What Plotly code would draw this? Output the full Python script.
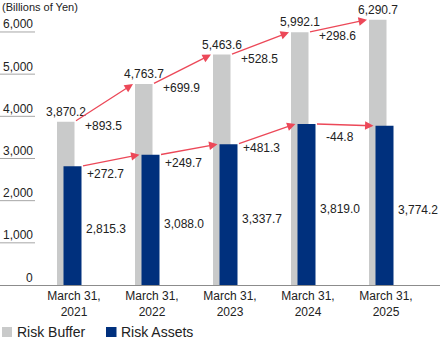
import plotly.graph_objects as go

# ---- data ----
categories = ["March 31,<br>2021", "March 31,<br>2022", "March 31,<br>2023",
              "March 31,<br>2024", "March 31,<br>2025"]
risk_buffer = [3870.2, 4763.7, 5463.6, 5992.1, 6290.7]
risk_assets = [2815.3, 3088.0, 3337.7, 3819.0, 3774.2]
y_ticks = [0, 1000, 2000, 3000, 4000, 5000, 6000]
unit_label = "(Billions of Yen)"
series_names = ["Risk Buffer", "Risk Assets"]

# ---- style ----
FONT = "Liberation Sans, Arial, Helvetica, sans-serif"
GRAY = "#c9caca"
NAVY = "#00307d"
RED = "#ec4858"
TXT = "#222222"
W, H = 440, 340
PX = 78.0            # px per category
X0 = 74.0            # px position of first category
PLOT_BOTTOM = 285.0  # px of y=0
PX_PER_K = 42.17     # px per 1000

def px(n):
    return n / PX

xs = list(range(len(categories)))
g_off, g_w = px(-17), px(17.5)
b_off, b_w = px(-10.5), px(18)
g_right = g_off + g_w
b_right = b_off + b_w

fig = go.Figure()
fig.add_trace(go.Bar(x=xs, y=risk_buffer, name=series_names[0], marker_color=GRAY,
                     marker_line_width=0, width=g_w, offset=g_off, hoverinfo="skip",
                     showlegend=False))
fig.add_trace(go.Bar(x=xs, y=risk_assets, name=series_names[1], marker_color=NAVY,
                     marker_line_width=0, width=b_w, offset=b_off, hoverinfo="skip",
                     showlegend=False))

ann = []
def fmt(v):
    return f"{v:,.1f}"
def sfmt(v):
    return ("+" if v >= 0 else "-") + f"{abs(v):,.1f}"

n = len(xs)
for i in range(n):
    # total label above gray bar
    ann.append(dict(x=i + g_off + g_w / 2, y=risk_buffer[i], text=fmt(risk_buffer[i]),
                    xanchor="center", yanchor="bottom", yshift=1, showarrow=False,
                    font=dict(size=12, color=TXT)))
    # value label right of navy bar
    ann.append(dict(x=i + b_right + px(2), y=risk_assets[i] * 0.469, text=fmt(risk_assets[i]),
                    xanchor="left", yanchor="middle", showarrow=False,
                    font=dict(size=12, color=TXT)))
for i in range(n - 1):
    d_buf = risk_buffer[i + 1] - risk_buffer[i]
    d_ast = risk_assets[i + 1] - risk_assets[i]
    # upper arrow
    ann.append(dict(x=i + 1 + g_off - px(2), y=risk_buffer[i + 1],
                    ax=i + g_right, ay=risk_buffer[i], axref="x", ayref="y",
                    xref="x", yref="y", text="", showarrow=True,
                    arrowhead=2, arrowsize=1.3, arrowwidth=1.3, arrowcolor=RED, standoff=0))
    # lower arrow
    ann.append(dict(x=i + 1 + b_off - px(2), y=risk_assets[i + 1],
                    ax=i + b_right, ay=risk_assets[i], axref="x", ayref="y",
                    xref="x", yref="y", text="", showarrow=True,
                    arrowhead=2, arrowsize=1.3, arrowwidth=1.3, arrowcolor=RED, standoff=0))
    # upper diff label
    ann.append(dict(x=i + g_right + px(8), y=risk_buffer[i], text=sfmt(d_buf),
                    xanchor="left", yanchor="middle", yshift=-4, showarrow=False,
                    font=dict(size=12, color=TXT)))
    # lower diff label
    lx0 = i + b_right
    lx1 = i + 1 + b_off
    lx = i + 0.41
    frac = (lx - lx0) / (lx1 - lx0)
    ly = risk_assets[i] + frac * d_ast
    ann.append(dict(x=lx, y=ly, text=sfmt(d_ast), xanchor="center", yanchor="middle",
                    yshift=-12.5, showarrow=False, font=dict(size=12, color=TXT)))

# y-axis labels + short gridlines
shapes = []
plot_h = PLOT_BOTTOM
for t in y_ticks:
    ann.append(dict(x=34.5 / W, xref="paper", y=t, yref="y", text=f"{t:,}",
                    xanchor="right", yanchor="middle", yshift=7.5, showarrow=False,
                    font=dict(size=12, color=TXT)))
    if t > 0:
        shapes.append(dict(type="line", xref="paper", yref="y", x0=0, x1=35 / W,
                           y0=t, y1=t, line=dict(color="#a6a6a6", width=1)))

# unit label
ann.append(dict(x=0, xref="paper", y=(plot_h - 7.5) / plot_h, yref="paper",
                text=unit_label, xanchor="left", yanchor="middle", showarrow=False,
                font=dict(size=11, color=TXT)))

# custom legend
def py(p):
    return (plot_h - p) / plot_h
leg = [(2, 12, 15, series_names[0], GRAY), (106, 116.5, 119, series_names[1], NAVY)]
for x0, x1, tx, name, col in leg:
    shapes.append(dict(type="rect", xref="paper", yref="paper", x0=x0 / W, x1=x1 / W,
                       y0=py(337), y1=py(327), line=dict(width=0), fillcolor=col))
    ann.append(dict(x=tx / W, xref="paper", y=py(332), yref="paper", text=name,
                    xanchor="left", yanchor="middle", showarrow=False,
                    font=dict(size=14, color=TXT)))

fig.update_layout(
    width=W, height=H,
    margin=dict(l=0, r=0, t=0, b=H - PLOT_BOTTOM, pad=0),
    paper_bgcolor="white", plot_bgcolor="white",
    barmode="overlay",
    font=dict(family=FONT, size=12, color=TXT),
    showlegend=False,
    xaxis=dict(range=[-X0 / PX, (W - X0) / PX], tickmode="array", tickvals=xs,
               ticktext=categories, showgrid=False, zeroline=False,
               showline=True, linecolor="#8c8c8c", linewidth=1, ticks="",
               tickfont=dict(size=12, color=TXT), fixedrange=True),
    yaxis=dict(range=[0, PLOT_BOTTOM / PX_PER_K * 1000], showgrid=False, zeroline=False,
               showticklabels=False, showline=False, ticks="", fixedrange=True),
    annotations=ann,
    shapes=shapes,
)

fig.write_html("out.html")
